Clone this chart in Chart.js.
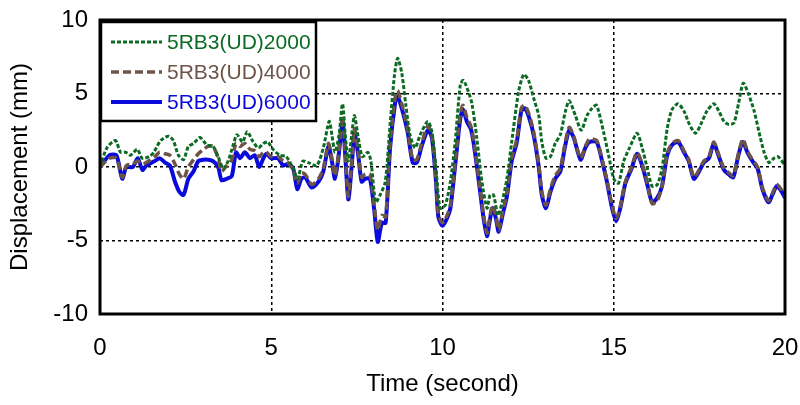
<!DOCTYPE html>
<html>
<head>
    <title>Displacement history</title>
    <script src="https://cdn.jsdelivr.net/npm/chart.js"></script>
    <style>
        body { margin: 0; background: #fff; }
    </style>
</head>
<body>
    <canvas id="chartContainer" width="800" height="405"></canvas>

    <script>
        // series names
        const seriesNames = ['5RB3(UD)2000', '5RB3(UD)4000', '5RB3(UD)6000'];

        // 5RB3(UD)2000 - time (s) and displacement (mm)
        const time2000 = [
            0, 0.2, 0.45, 0.6, 0.75, 0.89, 1.09, 1.23, 1.43, 1.57,
            1.77, 2.0, 2.14, 2.29, 2.44, 2.58, 2.73, 2.92, 3.12, 3.3,
            3.45, 3.6, 3.74, 3.89, 4.0, 4.16, 4.3, 4.45, 4.62, 4.77,
            4.9, 5.05, 5.25, 5.44, 5.64, 5.77, 5.92, 6.08, 6.33, 6.52,
            6.69, 6.77, 6.86, 6.98, 7.08, 7.16, 7.25, 7.35, 7.43, 7.54,
            7.66, 7.82, 7.91, 8.05, 8.18, 8.33, 8.47, 8.6, 8.69, 8.81,
            8.93, 9.05, 9.2, 9.35, 9.57, 9.69, 9.81, 9.93, 10.08, 10.23,
            10.37, 10.52, 10.61, 10.76, 10.86, 11.0, 11.15, 11.3, 11.39, 11.49,
            11.62, 11.74, 11.88, 12.02, 12.22, 12.37, 12.51, 12.66, 12.81, 12.9,
            13.02, 13.15, 13.29, 13.44, 13.59, 13.7, 13.88, 14.05, 14.22, 14.37,
            14.5, 14.7, 14.85, 15.0, 15.14, 15.29, 15.46, 15.68, 15.83, 15.98,
            16.12, 16.27, 16.41, 16.56, 16.7, 16.88, 17.05, 17.21, 17.39, 17.58,
            17.72, 17.92, 18.07, 18.22, 18.36, 18.51, 18.65, 18.78, 18.93, 19.1,
            19.24, 19.39, 19.53, 19.68, 19.8, 20.0
        ];
        const disp2000 = [
            0, 1.3, 1.8, 1.0, 1.0, 0.8, 1.2, 0.6, 0.7, 1.0,
            1.8, 2.1, 1.8, 0.8, 0.5, 1.4, 1.6, 2.0, 1.5, 1.4,
            0.7, -0.1, 0.4, 1.5, 2.2, 1.7, 2.4, 1.8, 1.3, 1.6,
            1.7, 1.2, 0.8, 0.7, -0.1, -0.8, 0.4, 0.3, 0.1, 1.3,
            3.1, 2.2, 1.0, 2.2, 4.3, 2.2, 0.4, 2.2, 3.5, 2.0,
            0.7, 1.0, 0.4, -2.4, -1.9, -1.0, 2.9, 6.3, 7.4, 6.4,
            4.2, 2.2, 1.3, 2.2, 3.1, 2.4, -0.1, -2.8, -2.6, -1.0,
            1.7, 5.6, 5.9, 5.1, 4.3, 2.0, -1.0, -2.8, -1.9, -1.9,
            -3.3, -2.4, -0.8, 1.7, 5.1, 6.3, 5.9, 4.7, 3.5, 1.7,
            0.6, 0.7, 1.6, 2.2, 3.8, 4.5, 3.5, 2.5, 3.5, 4.0,
            4.2, 2.4, 0.8, -0.8, -1.1, 0.4, 1.3, 2.3, 1.3, -0.1,
            -1.3, -1.2, -0.1, 2.6, 3.9, 4.3, 3.8, 2.9, 2.3, 3.1,
            3.8, 4.3, 3.8, 3.1, 2.9, 3.0, 4.4, 5.7, 5.0, 3.8,
            2.4, 1.0, 0.3, 0.6, 0.7, 0.1
        ];

        // 5RB3(UD)4000 and 6000 share the same sample times
        const time4000 = [
            0, 0.28, 0.48, 0.65, 0.77, 0.96, 1.1, 1.24, 1.35, 1.6,
            1.74, 1.9, 2.04, 2.19, 2.32, 2.44, 2.58, 2.73, 2.87, 3.02,
            3.16, 3.3, 3.45, 3.55, 3.7, 3.85, 3.97, 4.09, 4.23, 4.38,
            4.52, 4.65, 4.77, 4.86, 5.0, 5.2, 5.35, 5.49, 5.64, 5.76,
            5.88, 5.99, 6.18, 6.38, 6.52, 6.67, 6.77, 6.86, 6.96, 7.08,
            7.16, 7.25, 7.35, 7.43, 7.54, 7.64, 7.74, 7.88, 8.01, 8.11,
            8.23, 8.34, 8.47, 8.62, 8.69, 8.81, 8.98, 9.13, 9.25, 9.39,
            9.57, 9.69, 9.81, 9.88, 10.0, 10.13, 10.23, 10.37, 10.52, 10.6,
            10.71, 10.84, 10.96, 11.1, 11.2, 11.3, 11.37, 11.46, 11.56, 11.64,
            11.75, 11.88, 12.02, 12.17, 12.3, 12.4, 12.51, 12.66, 12.81, 12.9,
            13.02, 13.15, 13.29, 13.44, 13.57, 13.7, 13.83, 14.03, 14.17, 14.29,
            14.5, 14.66, 14.8, 14.95, 15.07, 15.19, 15.34, 15.52, 15.68, 15.83,
            15.98, 16.12, 16.27, 16.41, 16.56, 16.7, 16.88, 17.05, 17.19, 17.34,
            17.49, 17.63, 17.78, 17.92, 18.07, 18.22, 18.36, 18.49, 18.64, 18.77,
            18.9, 19.05, 19.2, 19.34, 19.52, 19.63, 19.76, 19.88, 20.0
        ];
        const time6000 = time4000;

        const disp4000 = [
            0, 0.6, 0.6, -0.7, 0.1, 0.2, 0.4, 0.2, 0.3, 0.7,
            1.0, 0.9, 0.8, 0.2, -0.5, -0.8, 0.0, 0.5, 0.9, 1.2,
            1.4, 1.4, 0.6, -0.3, 0.1, 0.5, 1.6, 1.4, 1.6, 1.2,
            1.1, 0.7, 1.0, 1.0, 0.7, 0.7, 0.4, 0.3, -0.2, -1.1,
            -0.4, -0.5, -1.2, -0.8, -0.1, 1.6, 0.6, -0.6, 0.8, 3.4,
            1.0, -2.0, 0.3, 2.6, 1.0, -0.7, -0.5, -0.5, -2.7, -4.3,
            -3.3, -3.4, 1.6, 4.8, 5.2, 4.3, 2.6, 0.5, 0.5, 1.6,
            2.8, 2.2, -0.8, -3.2, -3.8, -3.3, -2.6, 0.3, 3.6, 4.2,
            3.4, 2.7, 1.0, -1.5, -3.3, -4.5, -3.6, -2.6, -3.3, -4.3,
            -3.1, -1.8, 0.6, 1.9, 4.0, 4.2, 3.7, 2.4, 0.2, -1.7,
            -2.6, -1.5, -0.6, -0.1, 1.5, 2.7, 2.1, 0.6, 1.4, 1.9,
            1.8, 0.5, -0.9, -2.6, -3.5, -2.7, -1.0, 0.0, 1.0, 0.2,
            -1.1, -2.5, -2.3, -1.3, 0.9, 1.6, 1.8, 1.1, 0.5, -0.7,
            -0.2, 0.4, 0.7, 1.7, 0.8, -0.1, -0.4, -0.6, 0.9, 1.9,
            1.1, 0.5, 0.0, -1.4, -2.3, -1.8, -1.2, -1.5, -2.0
        ];
        const disp6000 = [
            0, 0.8, 0.8, -0.8, 0.0, 0.0, 0.6, -0.2, 0.1, 0.4,
            0.6, 0.3, 0.1, -1.0, -1.7, -1.9, -0.8, -0.3, 0.4, 0.5,
            0.5, 0.4, 0.0, -0.9, -0.8, -0.6, 1.0, 0.6, 1.0, 0.6,
            0.8, 0.0, 0.6, 0.9, 0.6, 0.6, 0.1, 0.2, -0.1, -1.5,
            -0.8, -0.7, -1.4, -1.0, -0.3, 1.4, 0.4, -0.8, 0.6, 3.1,
            0.8, -2.2, 0.1, 2.3, 0.8, -1.0, -0.8, -0.8, -3.0, -5.1,
            -3.8, -3.8, 1.3, 4.4, 4.8, 4.0, 2.4, 0.3, 0.3, 1.4,
            2.5, 2.0, -1.0, -3.4, -4.0, -3.5, -2.8, 0.1, 3.3, 3.9,
            3.1, 2.5, 0.8, -1.7, -3.5, -4.7, -3.8, -2.8, -3.5, -4.4,
            -3.3, -2.0, 0.4, 1.7, 3.8, 4.0, 3.5, 2.2, 0.0, -1.9,
            -2.8, -1.7, -0.8, -0.3, 1.3, 2.5, 2.0, 0.5, 1.3, 1.7,
            1.7, 0.4, -1.0, -2.8, -3.7, -2.8, -1.1, -0.1, 0.9, 0.1,
            -1.2, -2.4, -2.1, -1.3, 0.8, 1.5, 1.7, 1.0, 0.4, -0.8,
            -0.3, 0.3, 0.6, 1.6, 0.7, -0.2, -0.5, -0.7, 0.8, 1.7,
            1.0, 0.4, -0.1, -1.5, -2.4, -1.9, -1.3, -1.6, -2.1
        ];

        // axis ticks
        const xTicks = [0, 5, 10, 15, 20];
        const yTicks = [-10, -5, 0, 5, 10];

        function toPoints(times, values) {
            return times.map((t, i) => ({ x: t, y: values[i] }));
        }

        const fontFamily = '"Liberation Sans", Arial, sans-serif';

        // black frame round the plot area
        const framePlugin = {
            id: 'frame',
            afterDraw(chart) {
                const { ctx, chartArea } = chart;
                ctx.save();
                ctx.strokeStyle = '#000';
                ctx.lineWidth = 3;
                ctx.strokeRect(chartArea.left, chartArea.top,
                    chartArea.right - chartArea.left, chartArea.bottom - chartArea.top);
                ctx.restore();
            }
        };

        // boxed legend in the top-left corner, text coloured like the lines
        const boxLegendPlugin = {
            id: 'boxLegend',
            afterDraw(chart) {
                const { ctx, chartArea } = chart;
                const x0 = chartArea.left + 1, y0 = chartArea.top + 2;
                const w = 215, h = 99;
                ctx.save();
                ctx.fillStyle = '#fff';
                ctx.fillRect(x0, y0, w, h);
                ctx.strokeStyle = '#000';
                ctx.lineWidth = 2.5;
                ctx.strokeRect(x0, y0, w, h);
                ctx.font = '21px ' + fontFamily;
                ctx.textBaseline = 'middle';
                chart.data.datasets.forEach((ds, i) => {
                    const y = y0 + 20 + i * 30;
                    ctx.beginPath();
                    ctx.strokeStyle = ds.borderColor;
                    ctx.lineWidth = ds.borderWidth;
                    ctx.setLineDash(ds.borderDash || []);
                    ctx.moveTo(x0 + 10, y);
                    ctx.lineTo(x0 + 61, y);
                    ctx.stroke();
                    ctx.setLineDash([]);
                    ctx.fillStyle = ds.borderColor;
                    ctx.fillText(ds.label, x0 + 66, y + 1);
                });
                ctx.restore();
            }
        };

        const ctx = document.getElementById('chartContainer').getContext('2d');
        new Chart(ctx, {
            type: 'line',
            data: {
                datasets: [
                    {
                        label: seriesNames[0],
                        data: toPoints(time2000, disp2000),
                        borderColor: '#0b6b23',
                        borderWidth: 3,
                        borderDash: [4, 2],
                        pointRadius: 0,
                        tension: 0.25
                    },
                    {
                        label: seriesNames[1],
                        data: toPoints(time4000, disp4000),
                        borderColor: '#6e5448',
                        borderWidth: 3.5,
                        borderDash: [8, 4],
                        pointRadius: 0,
                        tension: 0.25
                    },
                    {
                        label: seriesNames[2],
                        data: toPoints(time6000, disp6000),
                        borderColor: '#0a0adc',
                        borderWidth: 4,
                        pointRadius: 0,
                        tension: 0.25
                    }
                ]
            },
            options: {
                responsive: false,
                animation: false,
                layout: { padding: { left: 0, right: 15, top: 20, bottom: 0 } },
                plugins: {
                    legend: { display: false },
                    tooltip: { enabled: false }
                },
                scales: {
                    x: {
                        type: 'linear',
                        min: 0,
                        max: 20,
                        afterBuildTicks: (scale) => { scale.ticks = xTicks.map(v => ({ value: v })); },
                        afterFit: (scale) => {
                            scale.height = 91;
                            scale.paddingLeft = 0;
                            scale.paddingRight = 0;
                        },
                        ticks: {
                            color: '#000',
                            padding: 20,
                            maxRotation: 0,
                            font: { family: fontFamily, size: 24 }
                        },
                        grid: { color: '#000', lineWidth: 1.5, drawTicks: false },
                        border: { display: false, dash: [3, 3] },
                        title: {
                            display: true,
                            text: 'Time (second)',
                            color: '#000',
                            font: { family: fontFamily, size: 24 },
                            padding: { top: 0, bottom: 6 }
                        }
                    },
                    y: {
                        min: -10,
                        max: 10,
                        afterBuildTicks: (scale) => { scale.ticks = yTicks.map(v => ({ value: v })); },
                        afterFit: (scale) => {
                            scale.width = 100;
                            scale.paddingTop = 0;
                            scale.paddingBottom = 0;
                        },
                        ticks: {
                            color: '#000',
                            padding: 12,
                            font: { family: fontFamily, size: 24 }
                        },
                        grid: { color: '#000', lineWidth: 1.5, drawTicks: false },
                        border: { display: false, dash: [3, 3] },
                        title: {
                            display: true,
                            text: 'Displacement (mm)',
                            color: '#000',
                            font: { family: fontFamily, size: 24 },
                            padding: { top: 6, bottom: 0 }
                        }
                    }
                }
            },
            plugins: [framePlugin, boxLegendPlugin]
        });
    </script>
</body>
</html>
